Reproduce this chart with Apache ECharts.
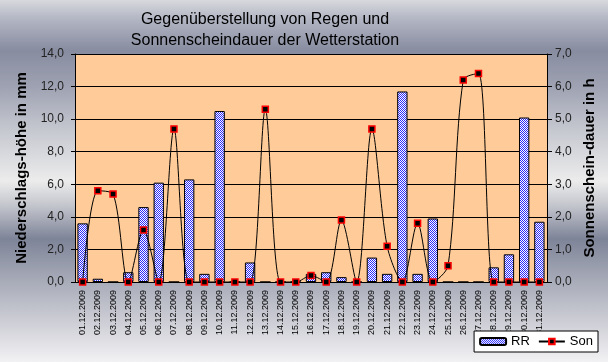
<!DOCTYPE html>
<html><head><meta charset="utf-8">
<script src="https://cdn.jsdelivr.net/npm/echarts@6/dist/echarts.min.js"></script>
<style>html,body{margin:0;padding:0;}#c{width:608px;height:362px;}</style>
</head><body><div id="c"></div>
<script>
const categories = ['01.12.2009','02.12.2009','03.12.2009','04.12.2009','05.12.2009','06.12.2009','07.12.2009','08.12.2009','09.12.2009','10.12.2009','11.12.2009','12.12.2009','13.12.2009','14.12.2009','15.12.2009','16.12.2009','17.12.2009','18.12.2009','19.12.2009','20.12.2009','21.12.2009','22.12.2009','23.12.2009','24.12.2009','25.12.2009','26.12.2009','27.12.2009','28.12.2009','29.12.2009','30.12.2009','31.12.2009'];
const rainRR = [3.6,0.2,0,0.6,4.6,6.1,0,6.3,0.5,10.5,0,1.2,0,0,0,0.5,0.6,0.3,0,1.5,0.5,11.7,0.5,3.9,0,0,0,0.9,1.7,10.1,3.7];
const sunSon = [0,2.8,2.7,0,1.6,0,4.7,0,0,0,0,0,5.3,0,0,0.2,0,1.9,0,4.7,1.1,0,1.8,0,0.5,6.2,6.4,0,0,0,0];
const leftTicks = [0,2,4,6,8,10,12,14];
const rightTicks = [0,1,2,3,4,5,6,7];

const pc = document.createElement('canvas');
pc.width = 2; pc.height = 2;
const px = pc.getContext('2d');
px.fillStyle = '#ffffff'; px.fillRect(0,0,2,2);
px.fillStyle = '#2a2aff'; px.fillRect(0,0,1,1); px.fillRect(1,1,1,1);

const fmt = v => v.toFixed(1).replace('.', ',');
const chart = echarts.init(document.getElementById('c'), null, {renderer:'canvas'});
chart.setOption({
  animation: false,
  backgroundColor: {type:'linear', x:0, y:0, x2:0, y2:1, colorStops:[
    {offset:0, color:'#d8d9de'},
    {offset:0.05, color:'#b4b7c4'},
    {offset:0.14, color:'#878ca0'},
    {offset:0.24, color:'#9ea2b2'},
    {offset:0.36, color:'#c6c8d0'},
    {offset:0.5, color:'#ececec'},
    {offset:0.57, color:'#c2c4cc'},
    {offset:0.66, color:'#7e8498'},
    {offset:0.76, color:'#a2a6b4'},
    {offset:0.88, color:'#cacbd3'},
    {offset:1, color:'#f2f2f4'}
  ]},
  title: {
    text: 'Gegenüberstellung von Regen und\nSonnenscheindauer der Wetterstation',
    left: 260, top: 4, textAlign: 'center',
    textStyle: {fontFamily:'Liberation Sans, Arial', fontSize:16, fontWeight:'normal', color:'#000', lineHeight:21}
  },
  grid: {left:75, right:61, top:54, bottom:80, show:true, backgroundColor:'#FFCC99', borderWidth:0},
  legend: {
    right: 10, bottom: 10, itemGap: 8, itemWidth: 26, itemHeight: 7,
    backgroundColor:'#ffffff', borderColor:'#000', borderWidth:1, borderRadius:0, padding:[4,5],
    textStyle:{fontFamily:'Liberation Sans, Arial', fontSize:13, color:'#000'},
    data: ['RR','Son']
  },
  xAxis: {
    type:'category', data: categories, boundaryGap:true,
    axisLine:{lineStyle:{color:'#000', width:1}},
    axisTick:{interval:0, length:4, lineStyle:{color:'#000'}},
    axisLabel:{interval:0, rotate:90, margin:8, fontFamily:'Liberation Sans, Arial', fontSize:9, color:'#000'}
  },
  yAxis: [{
    type:'value', min:0, max:14, interval:2,
    name:'Niederschlags-höhe in mm', nameLocation:'middle', nameGap:33, nameRotate:90,
    nameTextStyle:{fontFamily:'Liberation Sans, Arial', fontSize:15, fontWeight:'bold', color:'#000'},
    axisLine:{show:true, lineStyle:{color:'#000'}},
    axisTick:{show:true, length:4, lineStyle:{color:'#000'}},
    axisLabel:{formatter: v => leftTicks.includes(v) ? fmt(v) : '', margin:11, fontFamily:'Liberation Sans, Arial', fontSize:12, color:'#222'},
    splitLine:{show:true, lineStyle:{color:'#000', width:1}}
  },{
    type:'value', min:0, max:7, interval:1, position:'right',
    name:'Sonnenschein-dauer in h', nameLocation:'middle', nameGap:29, nameRotate:90,
    nameTextStyle:{fontFamily:'Liberation Sans, Arial', fontSize:15, fontWeight:'bold', color:'#000'},
    axisLine:{show:true, lineStyle:{color:'#000'}},
    axisTick:{show:true, length:5, lineStyle:{color:'#000'}},
    axisLabel:{formatter: v => rightTicks.includes(v) ? fmt(v) : '', margin:8, fontFamily:'Liberation Sans, Arial', fontSize:12, color:'#222'},
    splitLine:{show:false}
  }],
  series: [{
    name:'RR', type:'bar', data: rainRR, barWidth:'68%', yAxisIndex:0,
    itemStyle:{color:{image:pc, repeat:'repeat'}, borderColor:'#000', borderWidth:1}
  },{
    name:'Son', type:'line', data: sunSon, yAxisIndex:1, smooth:0.3, z:5,
    symbol:'rect', symbolSize:6,
    lineStyle:{color:'#000', width:1},
    itemStyle:{color:'#000', borderColor:'#ff0000', borderWidth:1.5}
  }]
});
</script></body></html>
